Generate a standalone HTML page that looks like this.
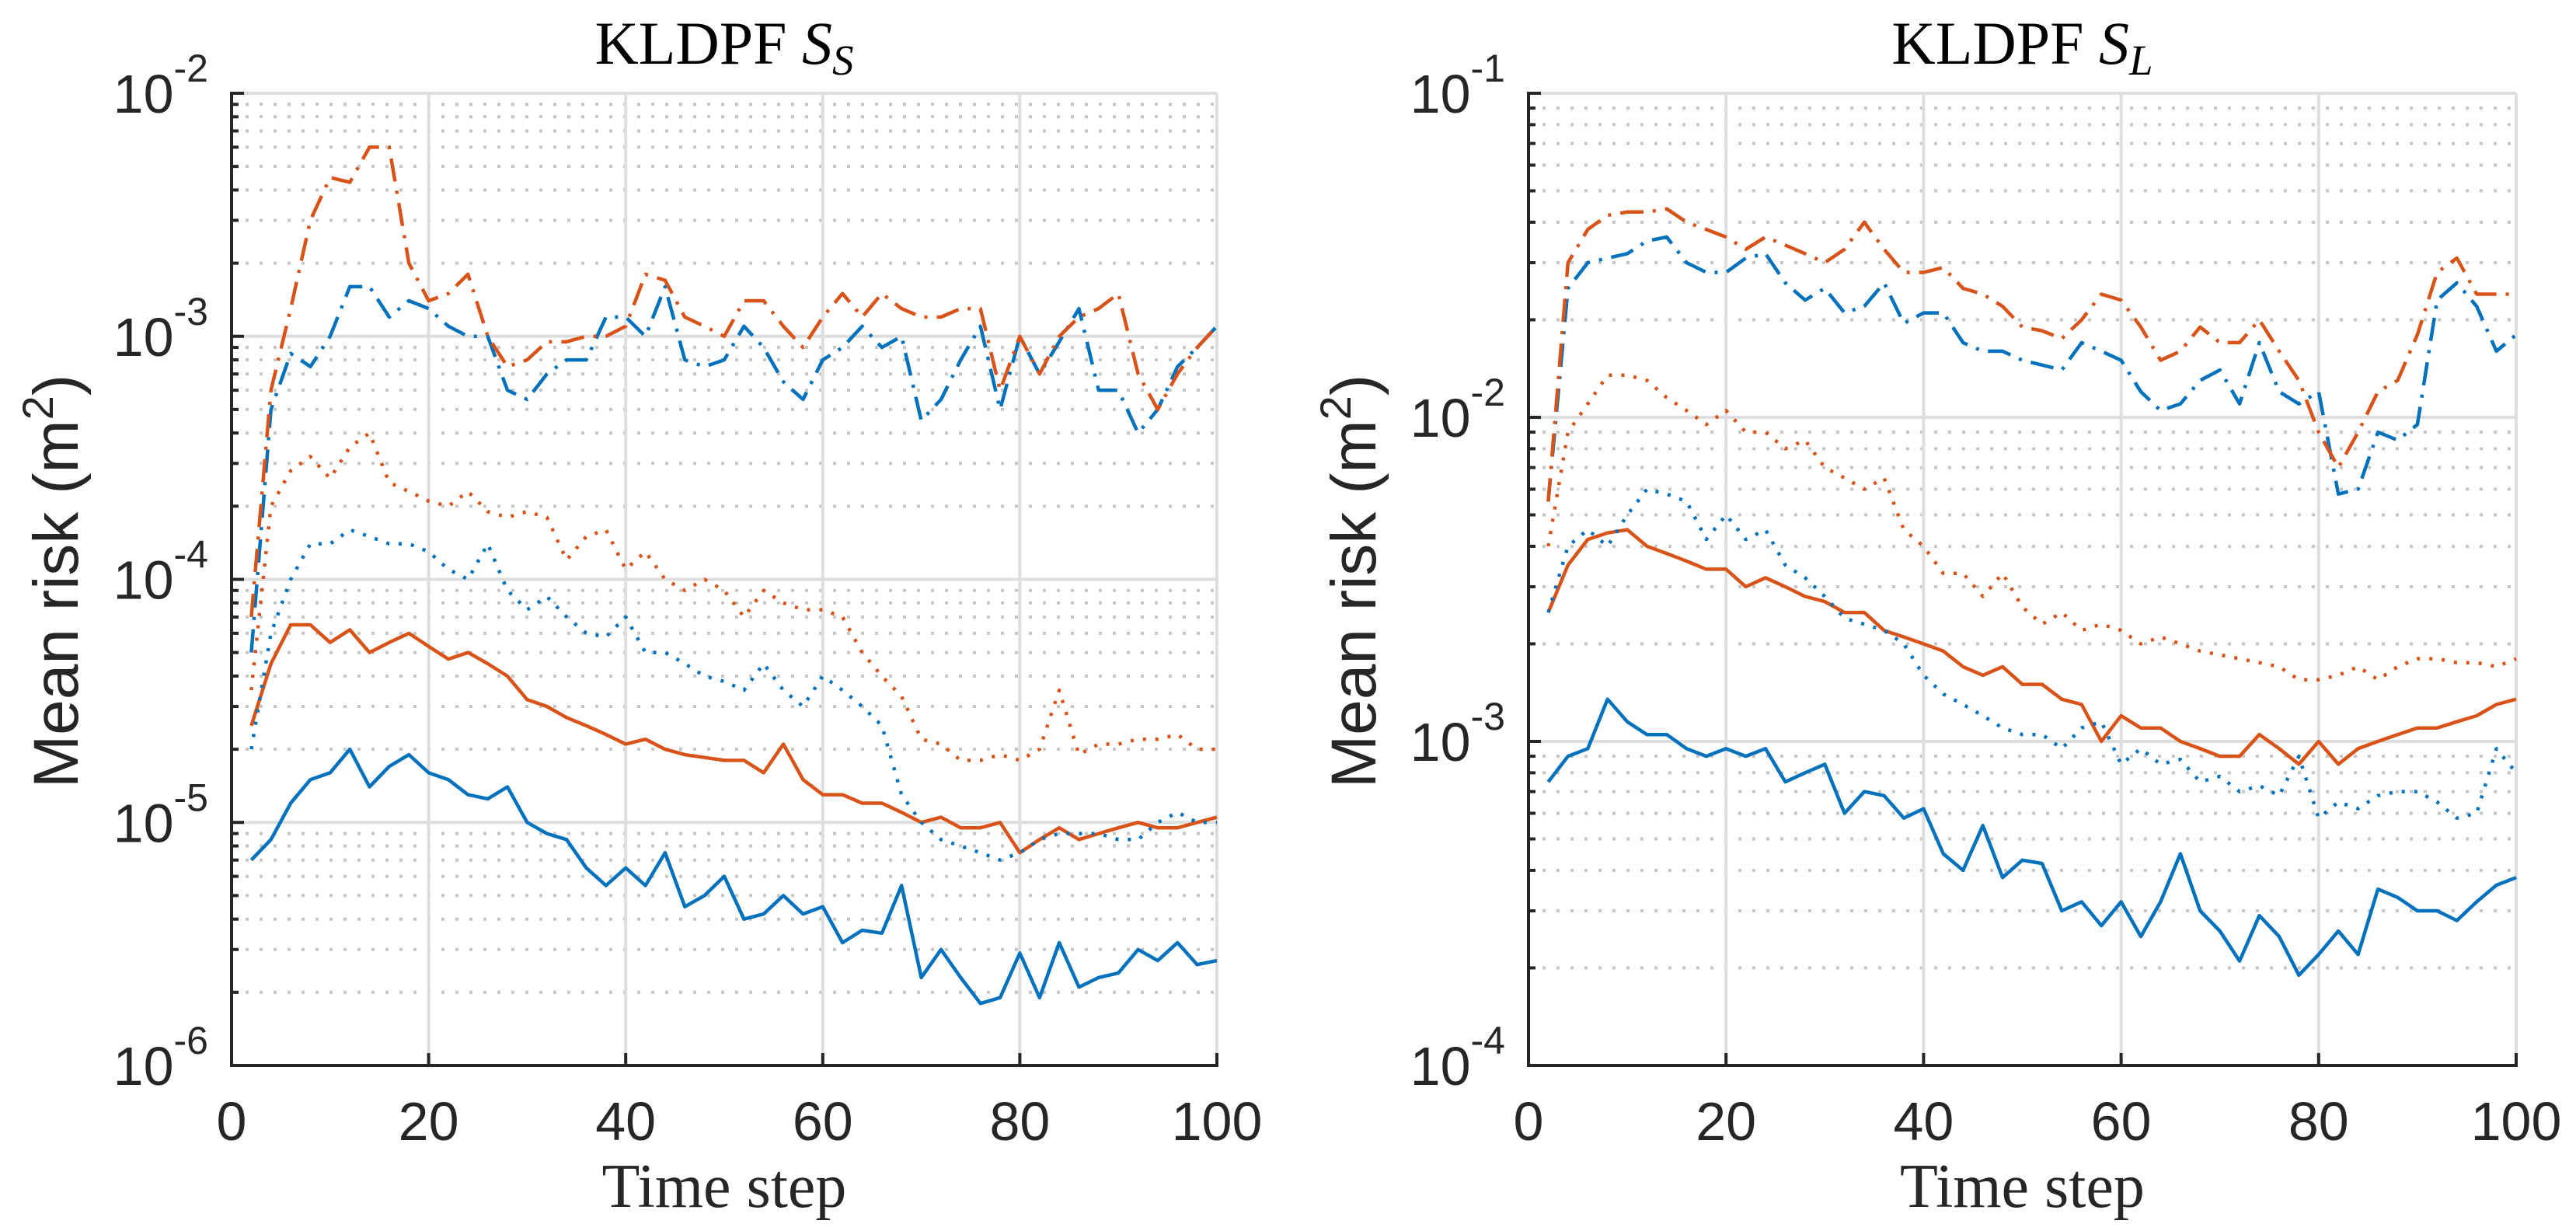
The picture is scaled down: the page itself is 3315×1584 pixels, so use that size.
<!DOCTYPE html>
<html><head><meta charset="utf-8">
<style>
html,body{margin:0;padding:0;background:#fff;}
svg{display:block;}
</style></head>
<body>
<svg id="chart" width="3315" height="1584" viewBox="0 0 3315 1584" xmlns="http://www.w3.org/2000/svg">
<rect width="3315" height="1584" fill="#fff"/>
<g id="left"></g>
<g id="right"></g>
</svg>
<script>
const steps = [2,4,6,8,10,12,14,16,18,20,22,24,26,28,30,32,34,36,38,40,42,44,46,48,50,52,54,56,58,60,62,64,66,68,70,72,74,76,78,80,82,84,86,88,90,92,94,96,98,100];
const xTicks = [0,20,40,60,80,100];

// Left panel (S_S)
const ssBlueSolid = [7e-6,8.5e-6,1.2e-5,1.5e-5,1.6e-5,2.0e-5,1.4e-5,1.7e-5,1.9e-5,1.6e-5,1.5e-5,1.3e-5,1.25e-5,1.4e-5,1.0e-5,9e-6,8.5e-6,6.5e-6,5.5e-6,6.5e-6,5.5e-6,7.5e-6,4.5e-6,5e-6,6e-6,4e-6,4.2e-6,5e-6,4.2e-6,4.5e-6,3.2e-6,3.6e-6,3.5e-6,5.5e-6,2.3e-6,3.0e-6,2.3e-6,1.8e-6,1.9e-6,2.9e-6,1.9e-6,3.2e-6,2.1e-6,2.3e-6,2.4e-6,3.0e-6,2.7e-6,3.2e-6,2.6e-6,2.7e-6];
const ssOrangeSolid = [2.5e-5,4.5e-5,6.5e-5,6.5e-5,5.5e-5,6.2e-5,5e-5,5.5e-5,6e-5,5.3e-5,4.7e-5,5e-5,4.5e-5,4e-5,3.2e-5,3e-5,2.7e-5,2.5e-5,2.3e-5,2.1e-5,2.2e-5,2e-5,1.9e-5,1.85e-5,1.8e-5,1.8e-5,1.6e-5,2.1e-5,1.5e-5,1.3e-5,1.3e-5,1.2e-5,1.2e-5,1.1e-5,1.0e-5,1.05e-5,9.5e-6,9.5e-6,1.0e-5,7.5e-6,8.5e-6,9.5e-6,8.5e-6,9e-6,9.5e-6,1.0e-5,9.5e-6,9.5e-6,1.0e-5,1.05e-5];
const ssBlueDot = [2e-5,6e-5,1.0e-4,1.4e-4,1.4e-4,1.6e-4,1.5e-4,1.4e-4,1.4e-4,1.3e-4,1.1e-4,1.0e-4,1.4e-4,9e-5,7.5e-5,8.5e-5,7e-5,6e-5,5.8e-5,7e-5,5e-5,5e-5,4.5e-5,4e-5,3.8e-5,3.5e-5,4.5e-5,3.5e-5,3e-5,4e-5,3.5e-5,3e-5,2.5e-5,1.3e-5,1.0e-5,8.5e-6,8e-6,7.5e-6,7e-6,7.5e-6,8.5e-6,9e-6,9e-6,9e-6,8.5e-6,8.5e-6,1.0e-5,1.1e-5,1.0e-5,1.0e-5];
const ssOrangeDot = [3.5e-5,2e-4,2.8e-4,3.2e-4,2.6e-4,3.5e-4,4e-4,2.5e-4,2.3e-4,2.1e-4,2e-4,2.3e-4,1.9e-4,1.8e-4,1.9e-4,1.8e-4,1.2e-4,1.5e-4,1.6e-4,1.1e-4,1.3e-4,1.0e-4,9e-5,1.0e-4,9e-5,7e-5,9e-5,8e-5,7.5e-5,7.5e-5,7e-5,5e-5,4e-5,3.3e-5,2.2e-5,2.1e-5,1.8e-5,1.8e-5,1.9e-5,1.8e-5,2e-5,3.5e-5,1.9e-5,2.1e-5,2.1e-5,2.2e-5,2.2e-5,2.3e-5,2.0e-5,2.0e-5];
const ssBlueDashDot = [5e-5,5e-4,8.5e-4,7.5e-4,1.0e-3,1.6e-3,1.6e-3,1.2e-3,1.4e-3,1.3e-3,1.1e-3,1.0e-3,1.0e-3,6e-4,5.5e-4,7e-4,8e-4,8e-4,1.2e-3,1.2e-3,1.0e-3,1.6e-3,8e-4,7.5e-4,8e-4,1.1e-3,9e-4,6.5e-4,5.5e-4,8e-4,9e-4,1.1e-3,9e-4,1.0e-3,4.5e-4,5.5e-4,8e-4,1.1e-3,5e-4,1.0e-3,7e-4,9.5e-4,1.3e-3,6e-4,6e-4,4e-4,5e-4,7.5e-4,9e-4,1.1e-3];
const ssOrangeDashDot = [7e-5,6e-4,1.3e-3,3e-3,4.5e-3,4.3e-3,6e-3,6e-3,2e-3,1.4e-3,1.5e-3,1.8e-3,1.0e-3,7.5e-4,8e-4,9.5e-4,9.5e-4,1.0e-3,1.0e-3,1.1e-3,1.8e-3,1.7e-3,1.2e-3,1.1e-3,1.0e-3,1.4e-3,1.4e-3,1.1e-3,9e-4,1.2e-3,1.5e-3,1.2e-3,1.5e-3,1.3e-3,1.2e-3,1.2e-3,1.3e-3,1.3e-3,6e-4,1.0e-3,7e-4,1.0e-3,1.2e-3,1.3e-3,1.5e-3,7e-4,5e-4,7e-4,9e-4,1.1e-3];

// Right panel (S_L)
const slBlueSolid = [7.5e-4,9e-4,9.5e-4,1.35e-3,1.15e-3,1.05e-3,1.05e-3,9.5e-4,9e-4,9.5e-4,9e-4,9.5e-4,7.5e-4,8e-4,8.5e-4,6e-4,7e-4,6.8e-4,5.8e-4,6.2e-4,4.5e-4,4e-4,5.5e-4,3.8e-4,4.3e-4,4.2e-4,3e-4,3.2e-4,2.7e-4,3.2e-4,2.5e-4,3.2e-4,4.5e-4,3e-4,2.6e-4,2.1e-4,2.9e-4,2.5e-4,1.9e-4,2.2e-4,2.6e-4,2.2e-4,3.5e-4,3.3e-4,3e-4,3e-4,2.8e-4,3.2e-4,3.6e-4,3.8e-4];
const slOrangeSolid = [2.5e-3,3.5e-3,4.2e-3,4.4e-3,4.5e-3,4e-3,3.8e-3,3.6e-3,3.4e-3,3.4e-3,3e-3,3.2e-3,3e-3,2.8e-3,2.7e-3,2.5e-3,2.5e-3,2.2e-3,2.1e-3,2e-3,1.9e-3,1.7e-3,1.6e-3,1.7e-3,1.5e-3,1.5e-3,1.35e-3,1.3e-3,1.0e-3,1.2e-3,1.1e-3,1.1e-3,1.0e-3,9.5e-4,9e-4,9e-4,1.05e-3,9.5e-4,8.5e-4,1.0e-3,8.5e-4,9.5e-4,1.0e-3,1.05e-3,1.1e-3,1.1e-3,1.15e-3,1.2e-3,1.3e-3,1.35e-3];
const slBlueDot = [2.5e-3,4e-3,4.5e-3,4e-3,5e-3,6e-3,5.8e-3,5.5e-3,4.2e-3,5e-3,4.2e-3,4.5e-3,3.5e-3,3.2e-3,2.8e-3,2.4e-3,2.3e-3,2.2e-3,2e-3,1.6e-3,1.4e-3,1.3e-3,1.2e-3,1.1e-3,1.05e-3,1.05e-3,9.5e-4,1.1e-3,1.15e-3,8.5e-4,9.5e-4,8.5e-4,8.8e-4,7.5e-4,7.8e-4,7e-4,7.3e-4,6.8e-4,9e-4,5.8e-4,6.5e-4,6.2e-4,6.8e-4,7e-4,7e-4,6.5e-4,5.8e-4,6e-4,9.5e-4,8e-4];
const slOrangeDot = [4e-3,9e-3,1.1e-2,1.35e-2,1.35e-2,1.3e-2,1.15e-2,1.05e-2,9.5e-3,1.05e-2,9e-3,9e-3,8e-3,8.5e-3,7e-3,6.5e-3,6e-3,6.5e-3,4.5e-3,4e-3,3.3e-3,3.3e-3,2.8e-3,3.3e-3,2.6e-3,2.3e-3,2.5e-3,2.2e-3,2.3e-3,2.2e-3,2e-3,2.1e-3,2e-3,1.9e-3,1.85e-3,1.8e-3,1.75e-3,1.7e-3,1.55e-3,1.55e-3,1.6e-3,1.7e-3,1.55e-3,1.7e-3,1.8e-3,1.8e-3,1.75e-3,1.75e-3,1.7e-3,1.8e-3];
const slBlueDashDot = [5.5e-3,2.5e-2,3e-2,3.1e-2,3.2e-2,3.5e-2,3.6e-2,3e-2,2.8e-2,2.8e-2,3.1e-2,3.2e-2,2.6e-2,2.3e-2,2.5e-2,2.1e-2,2.2e-2,2.6e-2,1.95e-2,2.1e-2,2.1e-2,1.7e-2,1.6e-2,1.6e-2,1.5e-2,1.45e-2,1.4e-2,1.7e-2,1.6e-2,1.5e-2,1.2e-2,1.05e-2,1.1e-2,1.3e-2,1.4e-2,1.1e-2,1.7e-2,1.2e-2,1.1e-2,1.2e-2,5.8e-3,6e-3,9e-3,8.5e-3,9.5e-3,2.3e-2,2.6e-2,2.2e-2,1.6e-2,1.8e-2];
const slOrangeDashDot = [5.5e-3,3e-2,3.8e-2,4.2e-2,4.3e-2,4.3e-2,4.4e-2,4e-2,3.8e-2,3.6e-2,3.3e-2,3.6e-2,3.4e-2,3.2e-2,3e-2,3.3e-2,4e-2,3.3e-2,2.8e-2,2.8e-2,2.9e-2,2.5e-2,2.4e-2,2.2e-2,1.9e-2,1.85e-2,1.75e-2,2e-2,2.4e-2,2.3e-2,1.9e-2,1.5e-2,1.6e-2,1.9e-2,1.7e-2,1.7e-2,2e-2,1.6e-2,1.3e-2,9e-3,7e-3,9e-3,1.2e-2,1.3e-2,1.8e-2,2.8e-2,3.1e-2,2.4e-2,2.4e-2,2.4e-2];

const NS = 'http://www.w3.org/2000/svg';
const BLUE = '#0072BD', ORANGE = '#D95319';
const DASH = {solid: null, dot: '4 12', dashdot: '30 12 4 12'};

function mk(parent, tag, attrs) {
  const e = document.createElementNS(NS, tag);
  for (const k in attrs) e.setAttribute(k, attrs[k]);
  parent.appendChild(e);
  return e;
}

function panel(g, cfg) {
  const L = cfg.left, R = cfg.right, T = 120, B = 1371;
  const xs = v => L + (v - 0) / 100 * (R - L);
  const ys = v => B - (Math.log10(v) - cfg.minExp) / (cfg.maxExp - cfg.minExp) * (B - T);

  for (let e = cfg.minExp; e < cfg.maxExp; e++) {
    for (let m = 2; m <= 9; m++) {
      const y = ys(m * Math.pow(10, e));
      const ln = mk(g, 'line', {x1: L, x2: R, y1: y, y2: y, stroke: '#c6c6c6', 'stroke-width': 4, 'stroke-dasharray': '4 14'});
      
      
      const tk = mk(g, 'line', {x1: L, x2: L + 9, y1: y, y2: y, stroke: '#262626', 'stroke-width': 4});
      
      
    }
  }
  for (let e = cfg.minExp; e <= cfg.maxExp; e++) {
    const y = ys(Math.pow(10, e));
    const ln = mk(g, 'line', {x1: L, x2: R, y1: y, y2: y, stroke: '#dedede', 'stroke-width': 4});
    
    
  }
  xTicks.forEach(v => {
    if (v === 0) return;
    const x = xs(v);
    const ln = mk(g, 'line', {x1: x, x2: x, y1: T, y2: B, stroke: '#dedede', 'stroke-width': 4});
    
    
  });

  cfg.series.forEach(s => {
    const pts = steps.map((t, i) => xs(t).toFixed(1) + ',' + ys(s.vals[i]).toFixed(1)).join(' ');
    const a = {points: pts, fill: 'none', stroke: s.color, 'stroke-width': 4.5, 'stroke-linejoin': 'round'};
    if (DASH[s.style]) a['stroke-dasharray'] = DASH[s.style];
    const pl = mk(g, 'polyline', a);
    
    
  });

  const ya = mk(g, 'line', {x1: L, x2: L, y1: T - 2, y2: B + 2, stroke: '#262626', 'stroke-width': 4});
  
  
  const xa = mk(g, 'line', {x1: L - 2, x2: R + 2, y1: B, y2: B, stroke: '#262626', 'stroke-width': 4});
  
  

  for (let e = cfg.minExp; e <= cfg.maxExp; e++) {
    const y = ys(Math.pow(10, e));
    const tk = mk(g, 'line', {x1: L, x2: L + 16, y1: y, y2: y, stroke: '#262626', 'stroke-width': 4});
    
    
    const tx = mk(g, 'text', {x: L - 30, y: y + 25, 'text-anchor': 'end', 'font-family': 'Liberation Sans, sans-serif', 'font-size': 70, fill: '#262626'});
    
    
    tx.appendChild(document.createTextNode('10'));
    const sup = mk(tx, 'tspan', {dy: -40, 'font-size': 50});
    sup.textContent = '-' + (-e);
  }
  xTicks.forEach(v => {
    const x = xs(v);
    const tk = mk(g, 'line', {x1: x, x2: x, y1: B, y2: B - 16, stroke: '#262626', 'stroke-width': 4});
    
    
    const tx = mk(g, 'text', {x: x, y: 1467, 'text-anchor': 'middle', 'font-family': 'Liberation Sans, sans-serif', 'font-size': 70, fill: '#262626'});
    
    
    tx.textContent = v;
  });

  const cx = (L + R) / 2;
  const title = mk(g, 'text', {x: cx, y: 82, 'text-anchor': 'middle', 'font-family': 'Liberation Serif, serif', 'font-size': 78, fill: '#000'});
  
  
  title.appendChild(document.createTextNode('KLDPF '));
  const s1 = mk(title, 'tspan', {'font-style': 'italic'}); s1.textContent = 'S';
  const s2 = mk(title, 'tspan', {'font-style': 'italic', 'font-size': 55, dy: 14}); s2.textContent = cfg.sub;

  const xl = mk(g, 'text', {x: cx, y: 1553, 'text-anchor': 'middle', 'font-family': 'Liberation Serif, serif', 'font-size': 80, fill: '#262626'});
  
  
  xl.textContent = 'Time step';

  const yl = mk(g, 'text', {x: 0, y: 0, 'text-anchor': 'middle', 'font-family': 'Liberation Sans, sans-serif', 'font-size': 82, fill: '#262626', transform: 'translate(' + cfg.ylx + ',748) rotate(-90)'});
  
  
  yl.appendChild(document.createTextNode('Mean risk (m'));
  const sp = mk(yl, 'tspan', {dy: -32, 'font-size': 56}); sp.textContent = '2';
  const sp2 = mk(yl, 'tspan', {dy: 32}); sp2.textContent = ')';
}

panel(document.getElementById('left'), {
  left: 298, right: 1566, minExp: -6, maxExp: -2, sub: 'S', ylx: 100,
  series: [
    {vals: ssBlueSolid, color: BLUE, style: 'solid', name: 'series-blue-solid'},
    {vals: ssOrangeSolid, color: ORANGE, style: 'solid', name: 'series-orange-solid'},
    {vals: ssBlueDot, color: BLUE, style: 'dot', name: 'series-blue-dotted'},
    {vals: ssOrangeDot, color: ORANGE, style: 'dot', name: 'series-orange-dotted'},
    {vals: ssBlueDashDot, color: BLUE, style: 'dashdot', name: 'series-blue-dashdot'},
    {vals: ssOrangeDashDot, color: ORANGE, style: 'dashdot', name: 'series-orange-dashdot'}
  ]
});
panel(document.getElementById('right'), {
  left: 1967, right: 3238, minExp: -4, maxExp: -1, sub: 'L', ylx: 1770,
  series: [
    {vals: slBlueSolid, color: BLUE, style: 'solid', name: 'series-blue-solid'},
    {vals: slOrangeSolid, color: ORANGE, style: 'solid', name: 'series-orange-solid'},
    {vals: slBlueDot, color: BLUE, style: 'dot', name: 'series-blue-dotted'},
    {vals: slOrangeDot, color: ORANGE, style: 'dot', name: 'series-orange-dotted'},
    {vals: slBlueDashDot, color: BLUE, style: 'dashdot', name: 'series-blue-dashdot'},
    {vals: slOrangeDashDot, color: ORANGE, style: 'dashdot', name: 'series-orange-dashdot'}
  ]
});
</script>
</body></html>
